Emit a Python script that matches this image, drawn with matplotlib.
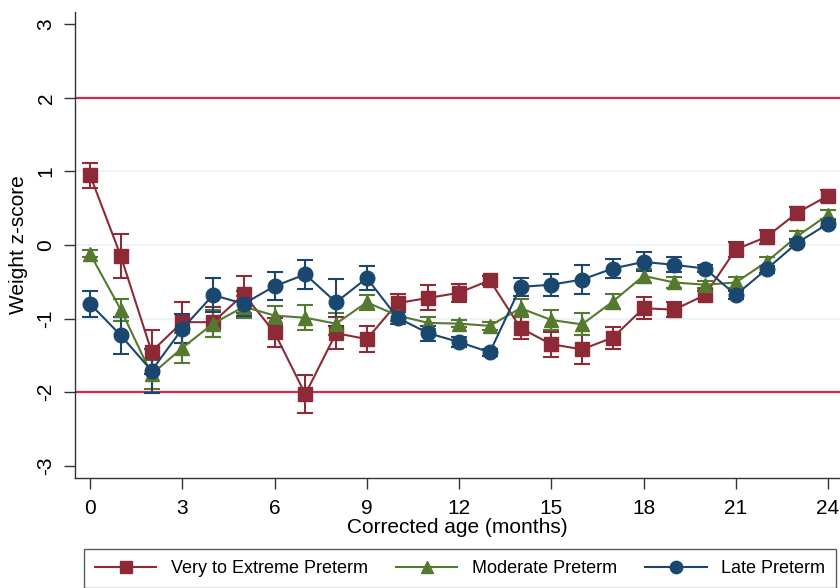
import matplotlib
matplotlib.use("Agg")
import matplotlib.pyplot as plt
from matplotlib import font_manager

fams = [f.name for f in font_manager.fontManager.ttflist]
if "Liberation Sans Narrow" in fams:
    plt.rcParams['font.family'] = ['Liberation Sans Narrow', 'Liberation Sans', 'DejaVu Sans']
else:
    plt.rcParams['font.family'] = ['Liberation Sans', 'DejaVu Sans']

months = list(range(25))

very_mean = [0.95, -0.15, -1.45, -1.05, -1.05, -0.67, -1.19, -2.03, -1.20, -1.28,
             -0.79, -0.72, -0.65, -0.48, -1.13, -1.35, -1.42, -1.26, -0.86, -0.88,
             -0.68, -0.06, 0.11, 0.44, 0.67]
very_err = [0.17, 0.30, 0.30, 0.28, 0.20, 0.25, 0.20, 0.26, 0.22, 0.18,
            0.12, 0.17, 0.12, 0.06, 0.15, 0.17, 0.20, 0.15, 0.15, 0.10,
            0.06, 0.10, 0.10, 0.08, 0.08]

mod_mean = [-0.12, -0.88, -1.76, -1.40, -1.07, -0.84, -0.96, -0.99, -1.07, -0.78,
            -0.96, -1.06, -1.07, -1.10, -0.86, -1.02, -1.08, -0.77, -0.42, -0.51,
            -0.54, -0.51, -0.23, 0.12, 0.41]
mod_err = [0.05, 0.15, 0.20, 0.20, 0.18, 0.15, 0.13, 0.17, 0.15, 0.10,
           0.07, 0.08, 0.05, 0.05, 0.12, 0.13, 0.15, 0.10, 0.10, 0.07,
           0.05, 0.07, 0.07, 0.07, 0.06]

late_mean = [-0.80, -1.23, -1.71, -1.14, -0.68, -0.80, -0.56, -0.40, -0.78, -0.45,
             -0.99, -1.20, -1.32, -1.46, -0.57, -0.54, -0.47, -0.32, -0.23, -0.27,
             -0.32, -0.68, -0.33, 0.03, 0.29]
late_err = [0.18, 0.25, 0.30, 0.20, 0.23, 0.17, 0.19, 0.20, 0.32, 0.16,
            0.08, 0.10, 0.07, 0.05, 0.12, 0.15, 0.20, 0.13, 0.13, 0.10,
            0.05, 0.06, 0.05, 0.05, 0.05]

labels = ["Very to Extreme Preterm", "Moderate Preterm", "Late Preterm"]
colors = ["#8E2A35", "#55792F", "#1A476F"]
markers = ["s", "^", "o"]

fig = plt.figure(figsize=(8.4, 5.88), dpi=100)
ax = fig.add_axes([75/840, (588-478)/588, 1 - 75/840, 466/588])

for y in [-1, 0, 1]:
    ax.axhline(y, color="#EAF2F3", lw=1.2, zorder=0)
for y in [-2, 2]:
    ax.axhline(y, color="#D42A50", lw=1.6, zorder=1)

handles = []
for m, e, c, mk, lab in zip([very_mean, mod_mean, late_mean],
                            [very_err, mod_err, late_err],
                            colors, markers, labels):
    ax.errorbar(months, m, yerr=e, fmt="none", ecolor=c, elinewidth=1.5,
                capsize=6, capthick=1.5, zorder=2)
    h, = ax.plot(months, m, color=c, lw=1.5, marker=mk, markersize=10 if mk != "o" else 10.5,
                 markerfacecolor=c, markeredgecolor=c, label=lab, zorder=3)
    handles.append(h)

ax.set_xlim(-0.49, 24.39)
ax.set_ylim(-3.17, 3.17)
ax.set_xticks(range(0, 25, 3))
ax.set_yticks([-3, -2, -1, 0, 1, 2, 3])
ax.set_yticklabels(["-3", "-2", "-1", "0", "1", "2", "3"], rotation=90, va="center")
ax.tick_params(axis="both", direction="out", length=8, width=1, labelsize=15, color="#333333")
ax.tick_params(axis="x", pad=7)
ax.tick_params(axis="y", pad=6)
for s in ["top", "right"]:
    ax.spines[s].set_visible(False)
for s in ["left", "bottom"]:
    ax.spines[s].set_color("#333333")
    ax.spines[s].set_linewidth(1)
ax.set_xlabel("Corrected age (months)", fontsize=15, labelpad=0)
ax.set_ylabel("Weight z-score", fontsize=15, labelpad=6)

leg = fig.legend(handles=handles, labels=labels, ncol=3, loc="upper left",
                 bbox_to_anchor=(84/840, -0.1, 752/840, 0.1 + 1 - 549/588),
                 mode="expand", frameon=True, fancybox=False, fontsize=13,
                 handlelength=3.4, markerscale=0.85, borderpad=0.6, columnspacing=1.0,
                 handletextpad=0.8, borderaxespad=0)
leg.get_frame().set_edgecolor("#333333")
leg.get_frame().set_linewidth(1.0)

fig.savefig("out.png", dpi=100)
